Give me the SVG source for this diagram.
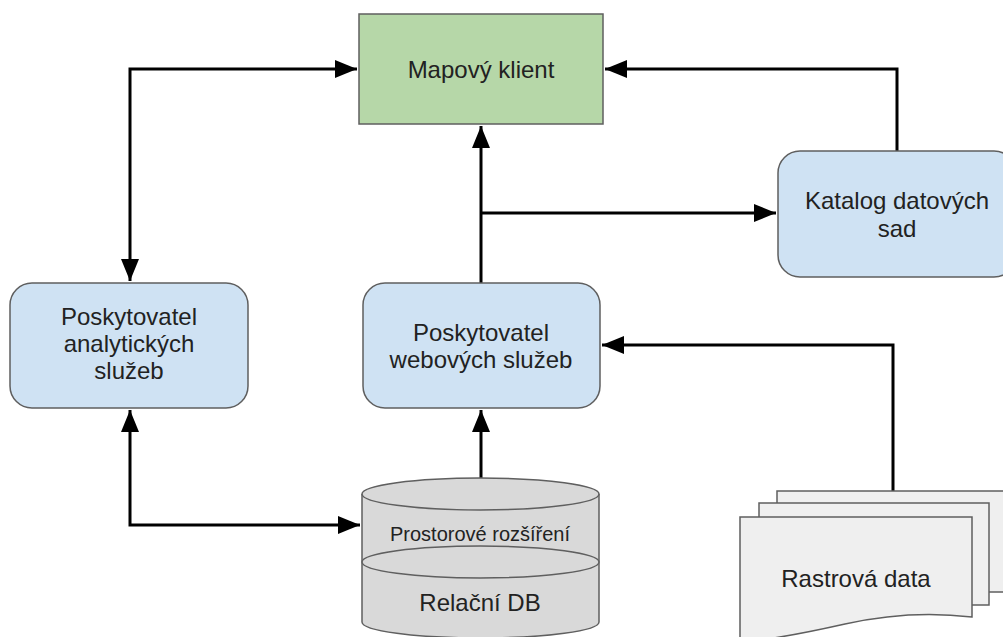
<svg xmlns="http://www.w3.org/2000/svg" width="1003" height="637" viewBox="0 0 1003 637">
<style>
.box{stroke:#5f5f5f;stroke-width:1.5}
.blue{fill:#cfe2f3}
.green{fill:#b6d7a8}
.gray{fill:#d9d9d9;stroke:#5f5f5f;stroke-width:1.5}
.doc{fill:#efefef;stroke:#5f5f5f;stroke-width:1.5}
.t{font-family:"Liberation Sans",Arial,sans-serif;font-size:24px;fill:#222;text-anchor:middle}
.ts{font-size:20px}
.c{fill:none;stroke:#000;stroke-width:3}
</style>
<defs>
<marker id="ah" markerUnits="userSpaceOnUse" markerWidth="24" markerHeight="20" refX="22" refY="9" orient="auto-start-reverse">
<path d="M0,0 L22,9 L0,18 Z" fill="#000"/>
</marker>
</defs>
<rect width="1003" height="637" fill="#fff"/>
<g id="connectors">
<path class="c" d="M130,281 V69 H357" marker-start="url(#ah)" marker-end="url(#ah)"/>
<path class="c" d="M897,151 V69 H605" marker-end="url(#ah)"/>
<path class="c" d="M481,283 V126" marker-end="url(#ah)"/>
<path class="c" d="M481,213 H776" marker-end="url(#ah)"/>
<path class="c" d="M481,478 V410" marker-end="url(#ah)"/>
<path class="c" d="M130,410 V525 H360" marker-start="url(#ah)" marker-end="url(#ah)"/>
<path class="c" d="M893,491 V345 H602" marker-end="url(#ah)"/>
</g>
<g id="mapovy-klient">
<rect class="box green" x="359" y="14" width="244" height="110"/>
<text class="t" x="481" y="78">Mapový klient</text>
</g>
<g id="katalog">
<rect class="box blue" x="778" y="151" width="238" height="126" rx="22"/>
<text class="t" x="897" y="209">Katalog datových</text>
<text class="t" x="897" y="237">sad</text>
</g>
<g id="analyticke-sluzby">
<rect class="box blue" x="10" y="283" width="238" height="125" rx="22"/>
<text class="t" x="129" y="325">Poskytovatel</text>
<text class="t" x="129" y="352">analytických</text>
<text class="t" x="129" y="379">služeb</text>
</g>
<g id="webove-sluzby">
<rect class="box blue" x="363" y="283" width="237" height="125" rx="22"/>
<text class="t" x="481" y="341">Poskytovatel</text>
<text class="t" x="481" y="368">webových služeb</text>
</g>
<g id="relacni-db">
<path class="gray" d="M362,494 V622 A118.5,16 0 0 0 599,622 V494"/>
<ellipse class="gray" cx="480.5" cy="494" rx="118.5" ry="16"/>
<ellipse class="gray" cx="480.5" cy="562" rx="118.5" ry="16"/>
<text class="t ts" x="480" y="541">Prostorové rozšíření</text>
<text class="t" x="480" y="611">Relační DB</text>
</g>
<g id="rastrova-data">
<rect class="doc" x="777" y="491" width="240" height="101"/>
<rect class="doc" x="759" y="503" width="230" height="102"/>
<path class="doc" d="M740,517 H972 V617 C930,612 885,615 845,624 C805,633 770,640 740,642 Z"/>
<text class="t" x="856" y="587">Rastrová data</text>
</g>
</svg>
